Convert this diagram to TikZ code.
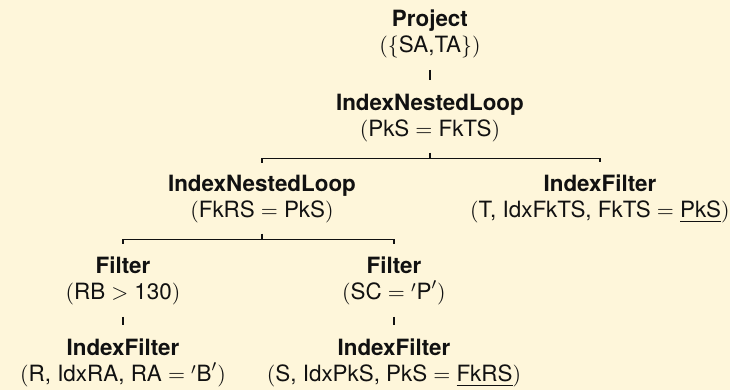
\documentclass[tikz,border=0pt]{standalone}
\usepackage{amsmath}
\usepackage{fontspec}
\setmainfont{TeX Gyre Heros}
\usepackage{tikz}
\usetikzlibrary{calc,positioning}
\definecolor{paper}{HTML}{FEF6DA}
\definecolor{ink}{HTML}{111111}

\begin{document}
\begin{tikzpicture}[font=\fontsize{11.2}{13.3}\selectfont,
  op/.style={align=center,inner sep=0pt,anchor=base,text=ink},
  link/.style={draw=ink,line width=0.6pt},
  stub/.style={link,shorten <=5.5pt,shorten >=6.7pt}]

  \fill[paper,use as bounding box] (0,0) rectangle (12.83,-6.86);

  % the plan, root on top (base = baseline of the second line)
  \node[op] (proj) at (7.556,-0.931) {\textbf{Project}\\$(\{\text{SA,TA}\})$};
  \node[op] (inlA) at (7.556,-2.407) {\textbf{IndexNestedLoop}\\$(\text{PkS}=\text{FkTS})$};
  \node[op] (inlB) at (4.604,-3.831) {\textbf{IndexNestedLoop}\\$(\text{FkRS}=\text{PkS})$};
  \node[op] (ifT)  at (10.544,-3.831) {\textbf{IndexFilter}\\$(\text{T, IdxFkTS, FkTS}=\underline{\text{PkS}})$};
  \node[op] (filR) at (2.161,-5.272) {\textbf{Filter}\\$(\text{RB}>\text{130})$};
  \node[op] (filS) at (6.924,-5.272) {\textbf{Filter}\\$(\text{SC}={}'\text{P}')$};
  \node[op] (ifR)  at (2.161,-6.713) {\textbf{IndexFilter}\\$(\text{R, IdxRA, RA}={}'\text{B}')$};
  \node[op] (ifS)  at (6.924,-6.713) {\textbf{IndexFilter}\\$(\text{S, IdxPkS, PkS}=\underline{\text{FkRS}})$};

  \foreach \p/\c in {proj/inlA, filR/ifR, filS/ifS}
    \draw[stub] (\p) -- (\c);
  \foreach \p/\c in {inlA/inlB, inlA/ifT, inlB/filR, inlB/filS}
    \draw[link] ([yshift=-5pt]\p.south) -- ++(0,-3pt) -| ([yshift=6pt]\c.north);
\end{tikzpicture}
\end{document}
